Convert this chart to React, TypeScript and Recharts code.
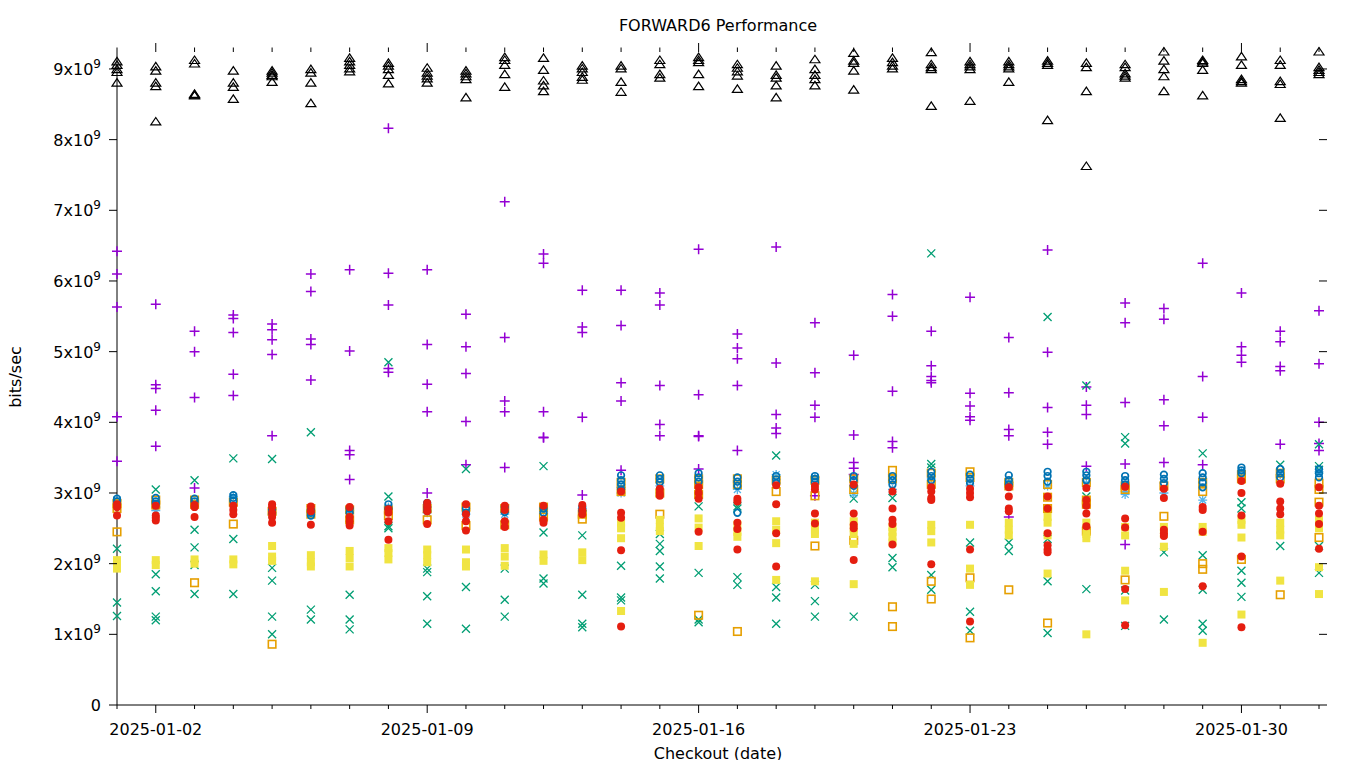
import React from 'react';
import { ScatterChart, Scatter, XAxis, YAxis } from 'recharts';

// one column per checkout date
const days = [
  '2025-01-01', '2025-01-02', '2025-01-03', '2025-01-04', '2025-01-05', '2025-01-06', '2025-01-07', '2025-01-08',
  '2025-01-09', '2025-01-10', '2025-01-11', '2025-01-12', '2025-01-13', '2025-01-14', '2025-01-15', '2025-01-16',
  '2025-01-17', '2025-01-18', '2025-01-19', '2025-01-20', '2025-01-21', '2025-01-22', '2025-01-23', '2025-01-24',
  '2025-01-25', '2025-01-26', '2025-01-27', '2025-01-28', '2025-01-29', '2025-01-30', '2025-01-31', '2025-02-01',
];
const labelledDays = ['2025-01-02', '2025-01-09', '2025-01-16', '2025-01-23', '2025-01-30'];
const yTicks = [0, 1, 2, 3, 4, 5, 6, 7, 8, 9];
const yMax = 9.24;

// values in units of 1e9 bits/sec, one list per day
const plusSeries = [
  [6.42, 6.10, 5.63, 4.08, 3.45], [5.67, 4.53, 4.48, 4.17, 3.66], [5.29, 5.00, 4.35, 3.07], [5.52, 5.47, 5.27, 4.68, 4.38],
  [5.39, 5.31, 5.17, 4.96, 3.81], [6.10, 5.85, 5.18, 5.10, 4.60], [6.16, 5.01, 3.60, 3.54, 3.19], [8.16, 6.11, 5.66, 4.76, 4.71],
  [6.16, 5.10, 4.54, 4.15, 3.00], [5.53, 5.07, 4.69, 4.01, 3.40], [7.12, 5.20, 4.30, 4.15, 3.36], [6.38, 6.25, 4.15, 3.79, 3.78],
  [5.87, 5.35, 5.27, 4.07, 2.97], [5.87, 5.37, 4.56, 4.30, 3.32], [5.83, 5.66, 4.52, 3.97, 3.81], [6.45, 4.39, 3.81, 3.80, 3.34],
  [5.25, 5.05, 4.90, 4.52, 3.60], [6.48, 4.84, 4.11, 3.92, 3.84], [5.41, 4.70, 4.24, 4.07, 2.96], [4.95, 3.82, 3.43, 3.35, 3.26],
  [5.81, 5.50, 4.44, 3.73, 3.64], [5.29, 4.80, 4.65, 4.59, 4.56], [5.77, 4.41, 4.23, 4.08, 4.03], [5.20, 4.42, 3.90, 3.81, 2.66],
  [6.44, 4.99, 4.21, 3.86, 3.69], [4.50, 4.24, 4.11, 3.38], [5.69, 5.41, 4.28, 3.41, 2.27], [5.61, 5.46, 4.32, 3.95, 3.43],
  [6.25, 4.65, 4.07, 3.40], [5.83, 5.07, 4.95, 4.85], [5.29, 5.14, 4.79, 4.73, 3.69], [5.58, 4.83, 4.00, 3.70, 3.60],
];
const crossSeries = [
  [2.21, 1.45, 1.26], [3.05, 1.85, 1.61, 1.25, 1.20], [3.18, 2.48, 2.23, 1.98, 1.57], [3.49, 2.35, 1.57],
  [3.48, 1.94, 1.76, 1.25, 1.00], [3.86, 1.35, 1.21], [1.56, 1.21, 1.07], [4.85, 2.95, 2.53, 2.50],
  [1.93, 1.88, 1.54, 1.15], [3.34, 1.67, 1.08], [1.93, 1.49, 1.25], [3.38, 2.44, 1.79, 1.72],
  [2.40, 1.56, 1.15, 1.10], [1.97, 1.52, 1.48], [2.42, 2.28, 2.18, 1.96, 1.79], [2.81, 1.87, 1.21, 1.17],
  [2.81, 2.78, 1.81, 1.70], [3.53, 1.67, 1.52, 1.15], [1.70, 1.47, 1.25], [2.92, 1.25],
  [2.93, 2.08, 1.95], [6.39, 3.41, 3.36, 1.84, 1.63], [2.30, 1.32, 1.05], [2.30, 2.18],
  [5.49, 2.35, 1.75, 1.02], [4.52, 2.95, 1.64], [3.79, 3.70, 1.62, 1.12], [2.16, 1.21],
  [3.56, 2.12, 1.63, 1.15, 1.05], [2.87, 2.78, 1.90, 1.73, 1.53], [3.40, 2.25], [3.69, 3.38, 3.33, 2.25, 1.87],
];
const starSeries = [
  [2.90, 2.85], [2.80, 2.75], [2.86], [2.95], [2.70], [2.70], [2.75], [2.80],
  [2.72], [2.70], [2.70], [2.74], [2.78], [3.00, 3.08], [3.10], [3.12],
  [3.05], [3.26], [3.22], [2.99], [3.05], [3.20], [3.10], [3.15],
  [3.10], [3.14], [3.02, 2.98], [3.00], [2.90], [3.30], [3.26], [3.30],
];
const squareSeries = [
  [2.85, 2.78, 2.45], [2.90, 2.83], [2.90, 2.84, 1.73], [2.87, 2.56], [2.74, 0.86], [2.78, 2.70], [2.76, 2.62], [2.76, 2.68],
  [2.78, 2.62], [2.80, 2.54], [2.78, 2.55], [2.80, 2.66], [2.70, 2.63], [3.15, 3.02], [3.20, 3.00, 2.70], [3.20, 3.12, 2.98, 1.27],
  [3.20, 3.12, 1.04], [3.18, 3.02], [3.18, 2.96, 2.25], [3.20, 3.05, 2.33], [3.32, 3.20, 1.39, 1.11], [3.28, 3.12, 1.75, 1.50], [3.30, 3.22, 1.80, 0.95], [3.15, 3.10, 1.63],
  [3.12, 2.94, 2.78, 1.16], [3.15, 2.90, 2.84, 2.46], [3.10, 3.05, 1.77], [3.10, 2.67], [3.15, 3.02, 2.00, 1.92], [3.26, 3.20, 2.06], [3.28, 3.20, 1.56], [3.14, 3.05, 2.87, 2.37],
];
const boxSeries = [
  [2.05, 1.98, 1.93], [2.05, 1.98], [2.06, 2.00], [2.06, 1.99], [2.25, 2.10, 2.04], [2.12, 2.02, 1.96], [2.18, 2.08, 1.96], [2.22, 2.15, 2.06],
  [2.20, 2.12, 2.02], [2.20, 2.02, 1.96], [2.22, 2.10, 1.97], [2.13, 2.04], [2.16, 2.05], [2.58, 2.50, 2.36, 1.33], [2.62, 2.52, 2.46], [2.64, 2.51, 2.25],
  [2.55, 2.45, 2.38], [2.60, 2.48, 2.29, 1.77], [2.58, 2.48, 2.42, 1.75], [2.60, 2.50, 2.42, 2.28, 1.71], [2.52, 2.45, 2.38, 2.30], [2.55, 2.46, 2.30], [2.55, 1.93, 1.70], [2.58, 2.48, 2.40],
  [2.66, 2.58, 2.40, 1.86], [2.58, 2.42, 2.36, 1.00], [2.52, 2.40, 1.90, 1.48], [2.52, 2.42, 2.24, 1.60], [2.52, 2.45, 0.88], [2.62, 2.55, 2.37, 1.28], [2.58, 2.48, 2.40, 1.76], [2.62, 2.50, 1.95, 1.57],
];
const ringSeries = [
  [2.92, 2.88], [2.93, 2.88, 2.85], [2.92, 2.88], [2.97, 2.93, 2.89], [2.77, 2.72], [2.76, 2.72, 2.68], [2.78, 2.72], [2.84, 2.78],
  [2.86, 2.80, 2.75], [2.78, 2.72], [2.80, 2.73], [2.78, 2.72], [2.80, 2.75], [3.25, 3.18, 3.12, 3.05], [3.25, 3.20, 3.15], [3.28, 3.22, 3.16],
  [3.22, 3.16, 3.10, 2.72], [3.24, 3.19, 3.14], [3.24, 3.20, 3.15], [3.24, 3.18, 3.10], [3.24, 3.18, 3.12], [3.30, 3.24, 3.18], [3.26, 3.20, 3.14], [3.25, 3.18, 3.12],
  [3.30, 3.24, 3.16], [3.30, 3.25, 3.18], [3.24, 3.18, 3.12], [3.26, 3.20, 3.14], [3.28, 3.22, 3.15, 3.08], [3.36, 3.32, 3.28], [3.34, 3.28, 3.22], [3.34, 3.28, 3.22],
];
const dotSeries = [
  [2.84, 2.80, 2.68], [2.82, 2.68, 2.65, 2.61], [2.83, 2.80, 2.66], [2.82, 2.76, 2.70], [2.84, 2.80, 2.72, 2.66, 2.58], [2.81, 2.74, 2.55], [2.80, 2.66, 2.60, 2.54], [2.77, 2.72, 2.60, 2.34],
  [2.86, 2.80, 2.74, 2.56], [2.84, 2.70, 2.60, 2.47], [2.82, 2.76, 2.60, 2.52], [2.82, 2.62, 2.58], [2.83, 2.76, 2.70], [3.02, 2.72, 2.65, 2.19, 1.11], [3.06, 3.00, 2.96], [3.08, 3.00, 2.92, 2.45],
  [2.92, 2.88, 2.58, 2.49, 2.20], [3.11, 2.84, 2.43, 1.96], [3.10, 3.05, 2.71, 2.57], [3.12, 2.71, 2.55, 2.50, 2.05], [3.02, 2.78, 2.62, 2.56, 2.27], [3.08, 3.02, 2.93, 2.90, 1.99], [3.06, 3.00, 2.94, 2.20, 1.18], [3.08, 2.95, 2.78, 2.74],
  [2.95, 2.78, 2.43, 2.26, 2.20, 2.16], [3.07, 2.90, 2.82, 2.71, 2.53], [3.09, 2.64, 2.51, 1.64, 1.13], [3.06, 2.93, 2.48, 2.43, 2.39], [2.80, 2.76, 2.45, 1.68], [3.17, 3.00, 2.68, 2.10, 1.10], [3.13, 2.88, 2.78, 2.70], [3.08, 2.82, 2.71, 2.56, 2.21],
];
const triangleSeries = [
  [9.10, 9.05, 8.99, 8.95, 8.80], [9.03, 8.97, 8.80, 8.75, 8.25], [9.12, 9.07, 8.64, 8.63, 8.62], [8.97, 8.80, 8.74, 8.57],
  [8.97, 8.94, 8.91, 8.89, 8.81], [8.99, 8.94, 8.80, 8.51], [9.15, 9.10, 9.05, 9.00, 8.96], [9.08, 9.04, 8.99, 8.91, 8.79],
  [9.01, 8.94, 8.90, 8.86, 8.80], [8.97, 8.93, 8.89, 8.85, 8.59], [9.16, 9.12, 9.05, 8.92, 8.74], [9.15, 8.98, 8.83, 8.76, 8.68],
  [9.04, 9.00, 8.95, 8.88, 8.84], [9.04, 9.00, 8.81, 8.67], [9.12, 9.06, 8.92, 8.87], [9.16, 9.12, 9.09, 8.92, 8.75],
  [9.06, 9.01, 8.96, 8.90, 8.71], [9.04, 8.91, 8.87, 8.76, 8.59], [9.13, 8.99, 8.91, 8.85, 8.76], [9.22, 9.11, 9.08, 8.97, 8.70],
  [9.15, 9.09, 9.04, 9.00], [9.23, 9.06, 9.02, 8.99, 8.47], [9.10, 9.06, 9.03, 8.99, 8.54], [9.10, 9.06, 9.03, 9.00, 8.81],
  [9.11, 9.08, 9.05, 8.27], [9.08, 9.02, 8.68, 7.62], [9.06, 9.02, 8.93, 8.90, 8.87], [9.24, 9.11, 8.99, 8.89, 8.68],
  [9.12, 9.10, 9.08, 8.98, 8.62], [9.17, 9.05, 8.85, 8.82, 8.80], [9.12, 9.05, 8.82, 8.78, 8.30], [9.24, 9.02, 8.98, 8.95, 8.92],
];

const toPoints = (cols: number[][]) =>
  cols.flatMap((vals, i) => vals.map((v) => ({ x: i, y: v * 1e9 })));

const FONT = "'DejaVu Sans', sans-serif";

const plus = (c: string) => ({ cx, cy }: any) => (
  <path d={`M${cx - 5},${cy}h10M${cx},${cy - 5}v10`} stroke={c} strokeWidth={1.5} fill="none" />
);
const cross = (c: string) => ({ cx, cy }: any) => (
  <path d={`M${cx - 4},${cy - 4}l8,8M${cx - 4},${cy + 4}l8,-8`} stroke={c} strokeWidth={1.3} fill="none" />
);
const star = (c: string) => ({ cx, cy }: any) => (
  <path
    d={`M${cx - 4.5},${cy}h9M${cx},${cy - 4.5}v9M${cx - 3.5},${cy - 3.5}l7,7M${cx - 3.5},${cy + 3.5}l7,-7`}
    stroke={c}
    strokeWidth={1.3}
    fill="none"
  />
);
const square = (c: string) => ({ cx, cy }: any) => (
  <rect x={cx - 3.75} y={cy - 3.75} width={7.5} height={7.5} stroke={c} strokeWidth={1.6} fill="none" />
);
const box = (c: string) => ({ cx, cy }: any) => <rect x={cx - 4} y={cy - 4} width={8} height={8} fill={c} />;
const ring = (c: string) => ({ cx, cy }: any) => (
  <circle cx={cx} cy={cy} r={3.3} stroke={c} strokeWidth={1.7} fill="none" />
);
const dot = (c: string) => ({ cx, cy }: any) => <circle cx={cx} cy={cy} r={4} fill={c} />;
const triangle = (c: string) => ({ cx, cy }: any) => (
  <path d={`M${cx},${cy - 4.5}L${cx + 5},${cy + 3}L${cx - 5},${cy + 3}Z`} stroke={c} strokeWidth={1.2} fill="none" />
);
const nothing = () => <g />;

const series = [
  { name: 'plus', data: plusSeries, shape: plus('#9400d3') },
  { name: 'cross', data: crossSeries, shape: cross('#009e73') },
  { name: 'star', data: starSeries, shape: star('#56b4e9') },
  { name: 'square', data: squareSeries, shape: square('#e69f00') },
  { name: 'box', data: boxSeries, shape: box('#f0e442') },
  { name: 'ring', data: ringSeries, shape: ring('#0072b2') },
  { name: 'dot', data: dotSeries, shape: dot('#e51e10') },
  { name: 'triangle', data: triangleSeries, shape: triangle('#000000') },
];

const dayIdx = days.map((_, i) => i);

const BottomTick = ({ x, y, payload }: any) => {
  const label = days[payload.value];
  const major = labelledDays.includes(label);
  return (
    <g>
      <line x1={x} y1={y} x2={x} y2={y + (major ? 8 : 4)} stroke="#000" />
      {major && (
        <text x={x} y={y + 30} textAnchor="middle" fontSize={16} fontFamily={FONT} fill="#000">
          {label}
        </text>
      )}
    </g>
  );
};

const TopTick = ({ x, y, payload }: any) => {
  const major = labelledDays.includes(days[payload.value]);
  return <line x1={x} y1={y} x2={x} y2={y - (major ? 9 : 4.5)} stroke="#000" />;
};

const LeftTick = ({ x, y, payload }: any) => {
  const v = Math.round(payload.value / 1e9);
  return (
    <g>
      <line x1={x - 8} y1={y} x2={x} y2={y} stroke="#000" />
      <text x={x - 16} y={y + 6} textAnchor="end" fontSize={16} fontFamily={FONT} fill="#000">
        {v === 0 ? (
          '0'
        ) : (
          <>
            {`${v}x10`}
            <tspan fontSize={12} dy={-7}>9</tspan>
          </>
        )}
      </text>
    </g>
  );
};

const RightTick = ({ x, y }: any) => <line x1={x} y1={y} x2={x + 8} y2={y} stroke="#000" />;

const W = 1344;
const H = 752;

export default function App() {
  const mirrorPoints = toPoints(triangleSeries);
  return (
    <div style={{ position: 'relative', width: W, height: H, background: '#fff' }}>
      <ScatterChart width={W} height={H} margin={{ top: 24, right: 13, bottom: 15, left: 9 }}>
        <XAxis
          xAxisId={0}
          type="number"
          dataKey="x"
          domain={[0, days.length - 1]}
          ticks={dayIdx}
          interval={0}
          height={40}
          tickSize={0}
          tickMargin={0}
          tickLine={false}
          axisLine={{ stroke: '#000' }}
          tick={BottomTick}
        />
        <XAxis
          xAxisId="top"
          orientation="top"
          type="number"
          dataKey="x"
          domain={[0, days.length - 1]}
          ticks={dayIdx}
          interval={0}
          height={20}
          tickSize={0}
          tickMargin={0}
          tickLine={false}
          axisLine={false}
          tick={TopTick}
        />
        <YAxis
          yAxisId={0}
          type="number"
          dataKey="y"
          domain={[0, yMax * 1e9]}
          ticks={yTicks.map((t) => t * 1e9)}
          interval={0}
          width={100}
          tickSize={0}
          tickMargin={0}
          tickLine={false}
          axisLine={{ stroke: '#000' }}
          tick={LeftTick}
        />
        <YAxis
          yAxisId="right"
          orientation="right"
          type="number"
          dataKey="y"
          domain={[0, yMax * 1e9]}
          ticks={yTicks.map((t) => t * 1e9)}
          interval={0}
          width={20}
          tickSize={0}
          tickMargin={0}
          tickLine={false}
          axisLine={false}
          tick={RightTick}
        />
        {/* carries the mirrored top/right axes, draws nothing */}
        <Scatter
          name="mirror"
          data={mirrorPoints}
          xAxisId="top"
          yAxisId="right"
          shape={nothing}
          isAnimationActive={false}
        />
        {series.map((s) => (
          <Scatter
            key={s.name}
            name={s.name}
            data={toPoints(s.data)}
            xAxisId={0}
            yAxisId={0}
            shape={s.shape}
            isAnimationActive={false}
          />
        ))}
      </ScatterChart>

      <svg
        width={W}
        height={H}
        style={{ position: 'absolute', left: 0, top: 0, pointerEvents: 'none', overflow: 'visible' }}
      >
        <text x={710} y={23} textAnchor="middle" fontSize={16} fontFamily={FONT} fill="#000">
          FORWARD6 Performance
        </text>
        <text x={710} y={751} textAnchor="middle" fontSize={16} fontFamily={FONT} fill="#000">
          Checkout (date)
        </text>
        <text
          x={13}
          y={369}
          textAnchor="middle"
          fontSize={16}
          fontFamily={FONT}
          fill="#000"
          transform="rotate(-90 13 369)"
        >
          bits/sec
        </text>
      </svg>
    </div>
  );
}
